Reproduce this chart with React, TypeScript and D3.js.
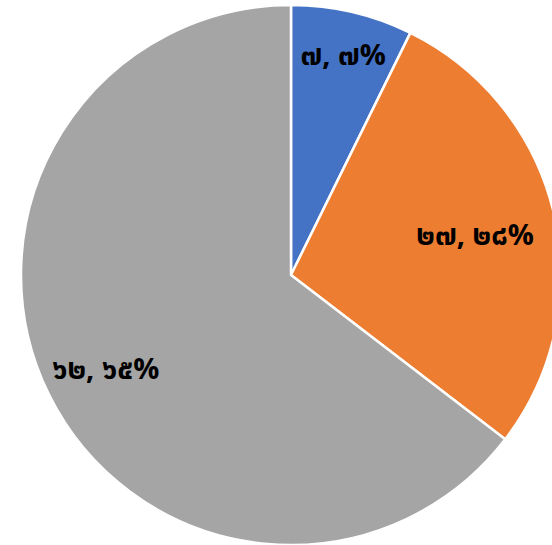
import React from "react";
import * as d3 from "d3";

const categories = ["A", "B", "C"];
const values = [7, 27, 62];
const percentLabels = ["๗%", "๒๘%", "๖๕%"];
const valueLabels = ["๗", "๒๗", "๖๒"];
const colors = ["#4472C4", "#ED7D31", "#A5A5A5"];
const labelRadiusFactor = [0.85, 0.7, 0.765];

export default function App() {
  const width = 552;
  const height = 545;
  const cx = 291;
  const cy = 275;
  const r = 270;
  const pie = d3.pie<number>().sort(null).value((d) => d);
  const arcs = pie(values);
  const arc = d3.arc<d3.PieArcDatum<number>>().innerRadius(0).outerRadius(r);
  return (
    <svg
      width={width}
      height={height}
      style={{ position: "absolute", left: 0, top: 0, background: "#fff" }}
    >
      <g transform={`translate(${cx},${cy})`}>
        {arcs.map((a, i) => (
          <path key={categories[i]} d={arc(a) || ""} fill={colors[i]} stroke="#fff" strokeWidth={2.5} strokeLinejoin="round" />
        ))}
        {arcs.map((a, i) => {
          const lr = r * labelRadiusFactor[i];
          const mid = (a.startAngle + a.endAngle) / 2;
          const x = lr * Math.sin(mid);
          const y = -lr * Math.cos(mid);
          return (
            <text
              key={"t" + i}
              x={x}
              y={y}
              dy={4}
              textAnchor="middle"
              dominantBaseline="central"
              fontFamily="'Noto Sans Thai', Tahoma, 'DejaVu Sans', sans-serif"
              fontWeight="bold"
              fontSize={29}
              fill="#000"
            >
              {valueLabels[i] + ", " + percentLabels[i]}
            </text>
          );
        })}
      </g>
    </svg>
  );
}
